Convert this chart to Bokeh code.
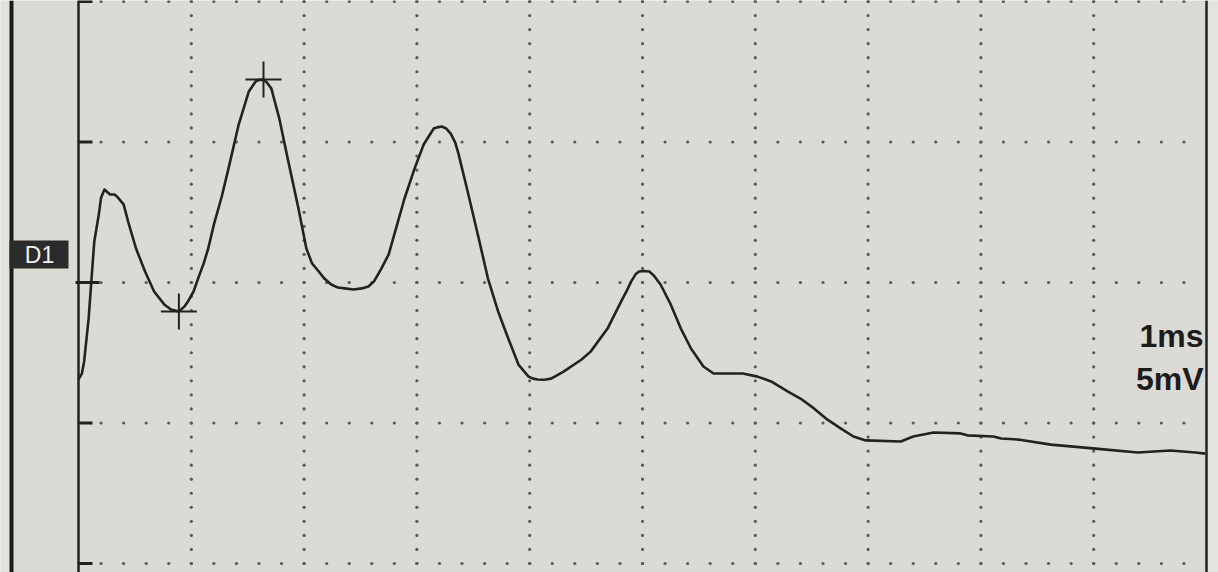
import numpy as np
from bokeh.plotting import figure
from bokeh.models import Range1d, Label
from bokeh.embed import file_html
from bokeh.resources import INLINE

# ---- data (time in ms, amplitude in mV) ----
time_ms = [0.00, 0.03, 0.05, 0.09, 0.12, 0.14, 0.18, 0.20, 0.23, 0.26, 0.28, 0.32, 0.35,
           0.40, 0.44, 0.51, 0.59, 0.67, 0.76, 0.82, 0.89, 0.94, 0.97, 1.02, 1.06, 1.11,
           1.15, 1.20, 1.27, 1.33, 1.42, 1.51, 1.57, 1.60, 1.64, 1.67, 1.71, 1.74, 1.78,
           1.86, 1.95, 2.02, 2.07, 2.13, 2.18, 2.24, 2.30, 2.36, 2.44, 2.51, 2.57, 2.62,
           2.68, 2.75, 2.80, 2.89, 2.98, 3.06, 3.11, 3.15, 3.18, 3.22, 3.26, 3.30, 3.34,
           3.37, 3.45, 3.54, 3.63, 3.72, 3.81, 3.90, 3.99, 4.03, 4.07, 4.13, 4.19, 4.30,
           4.46, 4.54, 4.69, 4.81, 4.86, 4.90, 4.94, 4.97, 5.01, 5.06, 5.10, 5.16, 5.25,
           5.34, 5.43, 5.54, 5.63, 5.89, 6.02, 6.14, 6.29, 6.40, 6.52, 6.64, 6.76, 6.87,
           6.98, 7.29, 7.40, 7.58, 7.82, 7.88, 8.11, 8.18, 8.33, 8.62, 8.82, 9.09, 9.39,
           9.68, 9.90, 9.99]
volt_mv = [-3.45, -3.24, -2.81, -1.28, 0.39, 1.46, 2.42, 3.02, 3.31, 3.20, 3.13, 3.13, 3.02,
           2.78, 2.17, 1.21, 0.39, -0.32, -0.78, -0.96, -1.03, -0.85, -0.68, -0.32, 0.14, 0.68,
           1.21, 2.06, 3.06, 4.06, 5.62, 6.80, 7.15, 7.21, 7.22, 7.12, 6.90, 6.44, 5.84,
           4.31, 2.63, 1.21, 0.68, 0.39, 0.14, -0.07, -0.18, -0.21, -0.25, -0.21, -0.14, 0.04,
           0.46, 1.00, 1.71, 2.99, 4.06, 4.91, 5.23, 5.48, 5.52, 5.55, 5.48, 5.30, 4.98,
           4.56, 3.24, 1.71, 0.14, -1.03, -1.99, -2.92, -3.35, -3.42, -3.45, -3.46, -3.42, -3.17,
           -2.74, -2.46, -1.64, -0.68, -0.30, 0.04, 0.30, 0.39, 0.41, 0.39, 0.25, -0.07, -0.78,
           -1.64, -2.35, -2.99, -3.24, -3.24, -3.35, -3.52, -3.88, -4.13, -4.48, -4.88, -5.20, -5.48,
           -5.62, -5.66, -5.48, -5.34, -5.37, -5.44, -5.48, -5.55, -5.59, -5.77, -5.84, -5.94, -6.05,
           -5.98, -6.05, -6.09]
cursor_ms = [0.89, 1.64]
x_divisions = [0, 1, 2, 3, 4, 5, 6, 7, 8, 9, 10]
y_divisions = [-10, -5, 0, 5, 10]
scale_time = "1ms"
scale_volt = "5mV"
channel = "D1"

# ---- geometry helpers (pixel -> data) ----
PX_MS = 112.8
X0 = 78.0
PX_MV = 28.1
Y0 = 282.0
W, H = 1218, 572


def dx(px):
    return (px - X0) / PX_MS


def dy(py):
    return (Y0 - py) / PX_MV


BG = "#dcdad5"
INK = "#222222"
DOT = "#5a5a5a"

p = figure(width=W, height=H, x_range=Range1d(dx(0), dx(W)), y_range=Range1d(dy(H), dy(0)),
           output_backend="svg", toolbar_location=None, min_border=0,
           min_border_left=0, min_border_right=0, min_border_top=0, min_border_bottom=0)
p.axis.visible = False
p.grid.visible = False
p.outline_line_color = None
p.background_fill_color = BG
p.border_fill_color = BG

# lighter strips at the edges
p.quad(left=[dx(0)], right=[dx(10)], bottom=[dy(H)], top=[dy(0)], fill_color="#e3e2df", line_color=None)
p.quad(left=[x_divisions[-1]], right=[dx(W)], bottom=[dy(H)], top=[dy(0)], fill_color="#e4e3e0", line_color=None)

# dotted graticule
hx, hy = [], []
for yv in y_divisions:
    for xv in np.arange(0.2, x_divisions[-1] - 0.05, 0.2):
        hx.append(xv)
        hy.append(yv)
for xv in x_divisions[1:-1]:
    for yv in np.arange(y_divisions[0], y_divisions[-1] + 0.01, 0.5):
        hx.append(xv)
        hy.append(yv)
p.scatter(hx, hy, size=3.2, fill_color=DOT, line_color=None)

# left axis line with inward ticks
p.segment(x0=[0], y0=[dy(H)], x1=[0], y1=[dy(0)], line_color=INK, line_width=2.5)
tick_y = [v for v in y_divisions if v != 0]
p.segment(x0=[0] * len(tick_y), y0=tick_y, x1=[dx(92)] * len(tick_y), y1=tick_y,
          line_color=INK, line_width=3)
p.segment(x0=[dx(75)], y0=[0], x1=[dx(99)], y1=[0], line_color=INK, line_width=3)

# right frame line
p.segment(x0=[x_divisions[-1]], y0=[dy(H)], x1=[x_divisions[-1]], y1=[dy(0)], line_color=INK, line_width=2.5)

# outer left border of the screen
p.segment(x0=[dx(11)], y0=[dy(H)], x1=[dx(11)], y1=[dy(0)], line_color="#1a1a1a", line_width=4)

# channel label box
p.quad(left=[dx(9)], right=[dx(68)], bottom=[dy(268)], top=[dy(240)], fill_color="#2b2b2b", line_color=None)
p.add_layout(Label(x=dx(39), y=dy(254), text=channel, text_color="#f2f2f2", text_font="Liberation Sans",
                   text_font_size="23px", text_align="center", text_baseline="middle"))

# trace
p.line(time_ms, volt_mv, line_color=INK, line_width=2.6, line_join="round")

# cursors
cursor_mv = list(np.interp(cursor_ms, time_ms, volt_mv))
p.scatter(cursor_ms, cursor_mv, marker="cross", size=36, line_color=INK, line_width=2)

# scale text
p.add_layout(Label(x=dx(1203), y=dy(335), text=scale_time, text_color="#1c1c1c", text_font="Liberation Sans",
                   text_font_style="bold", text_font_size="32px", text_align="right", text_baseline="alphabetic"))
p.add_layout(Label(x=dx(1203), y=dy(378), text=scale_volt, text_color="#1c1c1c", text_font="Liberation Sans",
                   text_font_style="bold", text_font_size="32px", text_align="right", text_baseline="alphabetic"))

open("out.html", "w").write(file_html(p, INLINE))
